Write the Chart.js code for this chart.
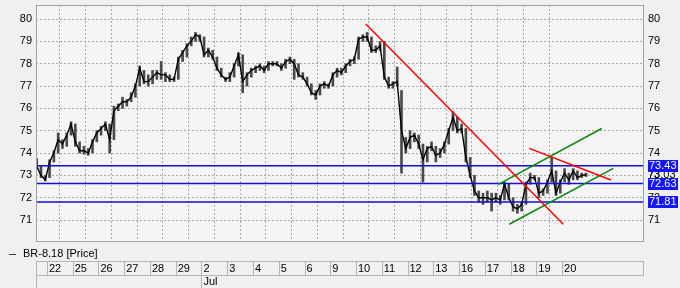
<!DOCTYPE html>
<html>
<head>
<meta charset="utf-8">
<script src="https://cdn.jsdelivr.net/npm/chart.js@4.4.0/dist/chart.umd.min.js"></script>
<style>
  html, body { margin: 0; padding: 0; background: #f0f0f0; }
  canvas { display: block; }
</style>
</head>
<body>
<canvas id="priceChart" width="680" height="288"></canvas>
<script>
// bars are 4-hour slots, 6 per trading day, first one just before the 22nd
const firstBar = -0.4;
const barsPerDay = 6;

const closes = [
  73.4, 73.0, 72.8, 73.6, 74.0, 74.6, 74.4, 74.8, 75.3, 74.5,
  74.1, 74.1, 74.0, 74.5, 74.9, 75.1, 75.3, 74.6, 75.9, 76.1,
  76.3, 76.3, 76.5, 77.0, 77.8, 77.2, 77.2, 77.4, 77.6, 77.5,
  77.5, 77.3, 77.3, 78.2, 78.5, 78.8, 79.0, 79.3, 79.2, 78.4,
  78.6, 78.3, 77.8, 77.5, 77.3, 77.4, 77.9, 78.4, 77.2, 77.5,
  77.7, 77.8, 77.9, 77.7, 78.0, 78.0, 78.0, 77.8, 78.1, 78.2,
  78.0, 77.5, 77.4, 77.1, 76.7, 76.6, 77.0, 77.1, 77.0, 77.5,
  77.7, 77.6, 77.9, 78.1, 78.2, 79.1, 79.2, 79.2, 78.6, 78.6,
  78.8, 77.4, 77.0, 77.1, 77.2, 75.0, 74.2, 74.7, 74.8, 74.4,
  73.7, 74.2, 74.3, 73.9, 74.0, 74.4, 75.0, 75.6, 75.0, 75.1,
  73.8, 73.0, 72.3, 72.0, 72.0, 72.0, 71.9, 72.0, 71.9, 72.6,
  72.0, 71.6, 71.5, 71.7, 72.6, 72.9, 72.9, 72.2, 72.3, 72.7,
  73.2, 72.2, 72.7, 73.1, 72.8, 73.2, 72.9, 73.0, 73.03
];

const highs = [
  73.75, 73.4, 73.0, 73.7, 74.1, 74.9, 74.6, 74.9, 75.4, 75.3,
  74.5, 74.3, 74.2, 74.6, 75.0, 75.2, 75.4, 75.3, 76.1, 76.2,
  76.5, 76.4, 76.7, 77.1, 77.9, 77.7, 77.5, 77.7, 77.7, 78.1,
  77.6, 77.5, 77.4, 78.3, 78.6, 78.9, 79.2, 79.4, 79.3, 79.2,
  78.7, 78.6, 78.3, 77.8, 77.4, 77.6, 78.0, 78.5, 78.4, 77.6,
  77.8, 77.9, 78.0, 77.9, 78.1, 78.1, 78.1, 78.0, 78.2, 78.3,
  78.2, 78.0, 77.6, 77.4, 77.1, 76.8, 77.1, 77.2, 77.1, 77.6,
  77.8, 77.8, 78.0, 78.2, 78.3, 79.2, 79.3, 79.4, 79.2, 78.8,
  79.0, 79.0, 77.4, 77.2, 77.85, 76.8, 74.7, 75.0, 74.9, 74.8,
  74.4, 74.3, 74.5, 74.3, 74.2, 74.5, 75.1, 75.85, 75.6, 75.3,
  75.1, 73.8, 73.0, 72.3, 72.2, 72.3, 72.2, 72.2, 72.1, 72.7,
  72.6, 72.0, 71.7, 71.8, 72.7, 73.1, 73.0, 72.9, 72.4, 72.8,
  73.8, 73.2, 72.8, 73.3, 73.1, 73.3, 73.2, 73.1, 73.1
];

const lows = [
  73.3, 72.9, 72.75, 72.9, 73.6, 74.0, 74.2, 74.3, 74.8, 74.3,
  74.0, 73.95, 73.9, 74.0, 74.5, 74.8, 75.0, 74.0, 74.6, 75.9,
  76.0, 76.1, 76.3, 76.5, 77.0, 77.1, 77.0, 77.1, 77.3, 77.3,
  77.2, 77.2, 77.2, 77.3, 78.1, 78.3, 78.8, 79.0, 79.0, 78.3,
  78.3, 78.2, 77.7, 77.4, 77.2, 77.2, 77.4, 77.9, 76.7, 77.0,
  77.4, 77.6, 77.7, 77.6, 77.7, 77.9, 77.9, 77.7, 77.8, 78.0,
  77.3, 77.4, 77.3, 77.0, 76.6, 76.4, 76.6, 76.9, 76.9, 77.0,
  77.4, 77.5, 77.6, 77.9, 78.0, 78.2, 79.0, 79.0, 78.5, 78.5,
  78.6, 77.3, 76.9, 76.9, 77.0, 73.1, 74.0, 74.2, 74.5, 74.2,
  72.7, 73.6, 74.1, 73.6, 73.8, 74.0, 74.4, 75.0, 74.9, 74.9,
  73.6, 72.9, 72.1, 71.8, 71.7, 71.8, 71.4, 71.8, 71.7, 71.9,
  71.9, 71.4, 71.3, 71.4, 71.7, 72.6, 72.8, 72.0, 72.1, 72.2,
  72.7, 72.1, 72.2, 72.7, 72.6, 72.8, 72.8, 72.9, 72.95
];

const dayLabels = ['22', '25', '26', '27', '28', '29', '2', '3', '4', '5', '6',
                   '9', '10', '11', '12', '13', '16', '17', '18', '19', '20'];
const monthLabels = [{ day: 6, text: 'Jul' }];

const levels = [73.43, 72.63, 71.81];
const lastPrice = 73.03;

// drawn trend lines, x in trading days from the 22nd
const redTrendA = [{ x: 12.38, y: 79.78 }, { x: 20.05, y: 70.81 }];
const redTrendB = [{ x: 18.73, y: 74.21 }, { x: 21.90, y: 72.79 }];
const greenUpper = [{ x: 17.53, y: 72.60 }, { x: 21.54, y: 75.10 }];
const greenLower = [{ x: 17.95, y: 70.81 }, { x: 21.99, y: 73.31 }];

const xMin = -0.427;
const xMax = 23.184;
const yMin = 70.06;
const yMax = 80.63;

const FONT = "'Liberation Sans', Arial, sans-serif";

const barPoints = closes.map((c, i) => ({ x: firstBar + i / barsPerDay, y: [lows[i], highs[i]] }));
const closePoints = closes.map((c, i) => ({ x: firstBar + i / barsPerDay, y: c }));

function levelLine(v) {
    return [{ x: xMin, y: v }, { x: xMax, y: v }];
}

function trendSet(points, color) {
    return {
        type: 'line', data: points, borderColor: color, borderWidth: 1.5,
        pointRadius: 0, order: 1
    };
}

// keep the plot top/bottom where the reference has it
function fixAxis(s) {
    s.width = 36;
    s.paddingTop = 0;
    s.paddingBottom = 0;
}

const frame = {
    id: 'frame',
    beforeDraw(chart) {
        const c = chart.ctx, a = chart.chartArea;
        c.save();
        c.fillStyle = '#f0f0f0';
        c.fillRect(0, 0, chart.width, chart.height);
        c.fillStyle = '#f4f4f4';
        c.fillRect(a.left, a.top, a.right - a.left, a.bottom - a.top);
        c.restore();
    },
    afterDraw(chart) {
        const c = chart.ctx, a = chart.chartArea;
        const xs = chart.scales.x, ys = chart.scales.y;
        c.save();
        c.strokeStyle = '#a0a0a0';
        c.lineWidth = 1;
        c.strokeRect(Math.round(a.left) + 0.5, Math.round(a.top) + 0.5,
            Math.round(a.right - a.left) - 1, Math.round(a.bottom - a.top));

        // date row under the plot
        const top = 261.5, mid = 275.5, bot = 288;
        c.strokeStyle = '#b4b4b4';
        c.beginPath();
        c.moveTo(a.left, top); c.lineTo(a.right, top);
        c.moveTo(a.left, mid); c.lineTo(a.right, mid);
        c.moveTo(Math.round(a.left) + 0.5, top); c.lineTo(Math.round(a.left) + 0.5, bot);
        c.moveTo(Math.round(a.right) - 0.5, top); c.lineTo(Math.round(a.right) - 0.5, mid);
        dayLabels.forEach((d, k) => {
            const px = Math.round(xs.getPixelForValue(k)) + 0.5;
            c.moveTo(px, top); c.lineTo(px, mid);
        });
        monthLabels.forEach(m => {
            const px = Math.round(xs.getPixelForValue(m.day)) + 0.5;
            c.moveTo(px, mid); c.lineTo(px, bot);
        });
        c.stroke();

        c.fillStyle = '#000';
        c.font = '11px ' + FONT;
        c.textBaseline = 'middle';
        c.textAlign = 'left';
        dayLabels.forEach((d, k) => {
            c.fillText(d, xs.getPixelForValue(k) + 2, 268.5);
        });
        monthLabels.forEach(m => {
            c.fillText(m.text, xs.getPixelForValue(m.day) + 2, 282);
        });

        // legend
        c.strokeStyle = '#404040';
        c.beginPath();
        c.moveTo(9, 254.5); c.lineTo(16, 254.5);
        c.stroke();
        c.fillText('BR-8.18 [Price]', 23, 254);

        // price labels on the right
        c.fillStyle = '#000';
        c.fillText(lastPrice.toFixed(2), 648, ys.getPixelForValue(lastPrice));
        levels.forEach(v => {
            const py = ys.getPixelForValue(v);
            c.fillStyle = '#1414ff';
            c.fillRect(648, Math.round(py) - 6, 30, 12);
            c.fillStyle = '#fff';
            c.fillText(v.toFixed(2), 649, py + 0.5);
        });
        c.restore();
    }
};

const gridColor = '#a8a8a8';

new Chart(document.getElementById('priceChart'), {
    type: 'line',
    data: {
        datasets: [
            {
                type: 'bar', data: barPoints, backgroundColor: '#4a4a4a',
                barThickness: 2, order: 10
            },
            {
                type: 'line', data: closePoints, borderColor: '#000', borderWidth: 1.4,
                pointRadius: 0, tension: 0, order: 9
            },
            ...levels.map(v => ({
                type: 'line', data: levelLine(v), borderColor: '#1010d8', borderWidth: 1.5,
                pointRadius: 0, order: 2
            })),
            trendSet(redTrendA, '#ff0000'),
            trendSet(redTrendB, '#ff0000'),
            trendSet(greenUpper, '#0a8a0a'),
            trendSet(greenLower, '#0a8a0a')
        ]
    },
    options: {
        responsive: false,
        animation: false,
        events: [],
        layout: { padding: { top: 5, bottom: 47, left: 0, right: 0 } },
        plugins: { legend: { display: false }, tooltip: { enabled: false } },
        scales: {
            x: {
                type: 'linear', min: xMin, max: xMax, offset: false,
                ticks: { display: false, stepSize: 1, includeBounds: false, maxTicksLimit: 100 },
                grid: {
                    drawTicks: false,
                    color: ctx => (ctx.tick && ctx.tick.value >= 0 && ctx.tick.value <= 20) ? gridColor : 'transparent'
                },
                border: { display: false, dash: [2, 2] },
                afterFit: s => { s.height = 0; }
            },
            y: {
                position: 'left', min: yMin, max: yMax,
                ticks: { stepSize: 1, includeBounds: false, padding: 4, color: '#000', font: { size: 11, family: FONT } },
                grid: { drawTicks: false, color: gridColor },
                border: { display: false, dash: [2, 2] },
                afterFit: fixAxis
            },
            y2: {
                position: 'right', min: yMin, max: yMax,
                ticks: { stepSize: 1, includeBounds: false, padding: 4, color: '#000', font: { size: 11, family: FONT } },
                grid: { drawTicks: false, drawOnChartArea: false },
                border: { display: false },
                afterFit: fixAxis
            }
        }
    },
    plugins: [frame]
});
</script>
</body>
</html>
